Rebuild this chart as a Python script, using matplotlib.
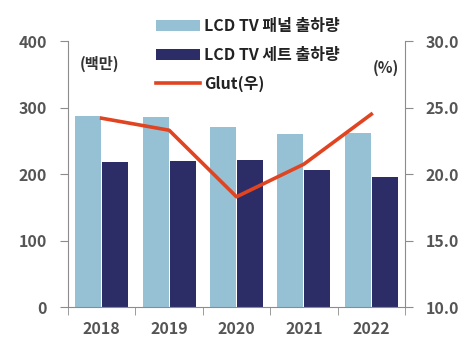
import numpy as np
import matplotlib.pyplot as plt
from matplotlib.ticker import FixedLocator

plt.rcParams['font.family'] = ['Noto Sans CJK KR', 'DejaVu Sans']

years = ['2018', '2019', '2020', '2021', '2022']
panel = [288, 286, 271, 260, 262]   # LCD TV 패널 출하량 (백만)
sets = [218, 219.5, 221.5, 206, 196]  # LCD TV 세트 출하량 (백만)
glut = [24.2, 23.3, 18.3, 20.75, 24.5]  # Glut (%)

text_c = '#555555'
spine_c = '#8c8c8c'

fig = plt.figure(figsize=(4.77, 3.5), dpi=100)
ax = fig.add_axes([68 / 477, 1 - 307.3 / 350, 337 / 477, 266.3 / 350])
ax2 = ax.twinx()

x = np.arange(len(years))
w = 0.385
b1 = ax.bar(x - 0.2, panel, w, color='#96c1d4', label='LCD TV 패널 출하량', zorder=2)
b2 = ax.bar(x + 0.2, sets, w, color='#2c2d67', label='LCD TV 세트 출하량', zorder=2)
l1, = ax2.plot(x, glut, color='#e04420', lw=2.6, label='Glut(우)', zorder=3)

ax.set_xlim(-0.5, 4.5)
ax.set_ylim(0, 400)
ax.set_yticks([0, 100, 200, 300, 400])
ax2.set_ylim(10, 30)
ax2.set_yticks([10, 15, 20, 25, 30])
ax2.set_yticklabels(['10.0', '15.0', '20.0', '25.0', '30.0'])

ax.set_xticks(x)
ax.set_xticklabels(years)
ax.xaxis.set_minor_locator(FixedLocator(np.arange(-0.5, 5, 1)))
ax.tick_params(axis='x', which='major', length=0, pad=10)
ax.tick_params(axis='x', which='minor', length=6, color=spine_c)

for a in (ax, ax2):
    a.spines['top'].set_visible(False)
    for s in ('left', 'right', 'bottom'):
        a.spines[s].set_color(spine_c)
ax.spines['right'].set_visible(False)
ax2.spines['left'].set_visible(False)
ax2.spines['bottom'].set_visible(False)

ax.tick_params(axis='y', length=6, color=spine_c, pad=9)
ax2.tick_params(axis='y', length=6, color=spine_c, pad=9)
for lab in ax.get_xticklabels() + ax.get_yticklabels() + ax2.get_yticklabels():
    lab.set_fontsize(11.5)
    lab.set_fontweight('bold')
    lab.set_color(text_c)

fig.text(80 / 477, 1 - 64 / 350, '(백만)', fontsize=11, fontweight='bold', color='#333333', va='center')
fig.text(386 / 477, 1 - 68 / 350, '(%)', fontsize=11, fontweight='bold', color='#333333', va='center', ha='center')

leg = fig.legend(handles=[b1, b2, l1], loc='upper left', bbox_to_anchor=(142 / 477, 1 - 4 / 350),
                 frameon=False, handlelength=2.7, handletextpad=0.3, labelspacing=0.8,
                 prop={'weight': 'bold', 'size': 11.5})
for t in leg.get_texts():
    t.set_color('#222222')

fig.savefig('out.png', dpi=100)
